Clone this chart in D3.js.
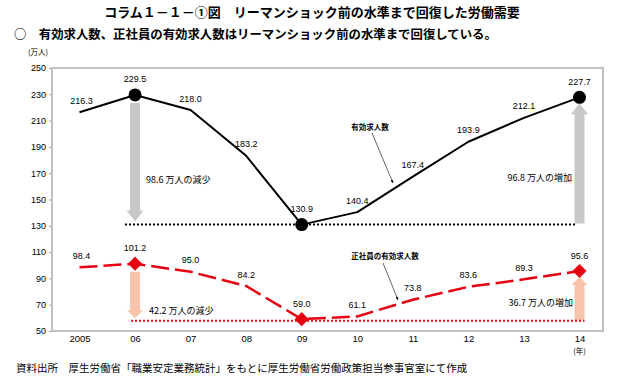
<!DOCTYPE html>
<html>
<head>
<meta charset="utf-8">
<script src="https://cdn.jsdelivr.net/npm/d3@7"></script>
<style>
  body { margin: 0; background: #fff; }
  text { font-family: "Liberation Sans", "Noto Sans CJK JP", sans-serif; }
  .jp { font-family: "Noto Sans CJK JP", sans-serif; }
</style>
</head>
<body>
<script>
// data
var years = ["2005", "06", "07", "08", "09", "10", "11", "12", "13", "14"];
var jobOffers = [216.3, 229.5, 218.0, 183.2, 130.9, 140.4, 167.4, 193.9, 212.1, 227.7];
var regularOffers = [98.4, 101.2, 95.0, 84.2, 59.0, 61.1, 73.8, 83.6, 89.3, 95.6];
var yTicks = [50, 70, 90, 110, 130, 150, 170, 190, 210, 230, 250];
var markedYears = ["06", "09", "14"];

var W = 621, H = 379;
var svg = d3.select("body").append("svg")
    .attr("width", W)
    .attr("height", H);

// frame of the plot
var frame = {left: 52, top: 68, right: 603, bottom: 331};

var x = d3.scalePoint()
    .domain(years)
    .range([79.5, 579.5]);

var y = d3.scaleLinear()
    .domain([50, 250])
    .range([frame.bottom, frame.top]);

// titles
svg.append("text").attr("class", "jp")
    .attr("x", 312).attr("y", 17)
    .attr("text-anchor", "middle")
    .attr("font-size", 13).attr("font-weight", "bold")
    .text("コラム１－１－①図　リーマンショック前の水準まで回復した労働需要");

svg.append("text").attr("class", "jp")
    .attr("x", 14).attr("y", 39)
    .attr("font-size", 12.4).attr("font-weight", "bold")
    .text("○　有効求人数、正社員の有効求人数はリーマンショック前の水準まで回復している。");

svg.append("text").attr("class", "jp")
    .attr("x", 28).attr("y", 55)
    .attr("font-size", 7.5)
    .text("(万人)");

// y axis
svg.append("g")
    .attr("transform", "translate(" + frame.left + ",0)")
    .call(d3.axisLeft(y).tickValues(yTicks).tickSize(3).tickPadding(3))
    .call(function(g) {
      g.select(".domain").remove();
      g.selectAll(".tick line").attr("stroke", "#999");
      g.selectAll(".tick text").attr("font-size", 9).attr("fill", "#000")
        .style("font-family", "Liberation Sans, sans-serif");
    });

// x axis
svg.append("g")
    .attr("transform", "translate(0," + frame.bottom + ")")
    .call(d3.axisBottom(x).tickSize(0).tickPadding(4))
    .call(function(g) {
      g.select(".domain").remove();
      g.selectAll(".tick text").attr("font-size", 9.5).attr("fill", "#000")
        .style("font-family", "Liberation Sans, sans-serif");
    });

svg.append("text").attr("class", "jp")
    .attr("x", x("14")).attr("y", 354)
    .attr("text-anchor", "middle")
    .attr("font-size", 7.5)
    .text("(年)");

// plot frame
svg.append("rect")
    .attr("x", frame.left).attr("y", frame.top)
    .attr("width", frame.right - frame.left)
    .attr("height", frame.bottom - frame.top)
    .attr("fill", "none")
    .attr("stroke", "#c0c0c0")
    .attr("stroke-width", 2);

// block arrows (drawn from the data values)
function blockArrow(cx, yFrom, yTo, color, shaftW, headW, headL) {
  var dir = yTo > yFrom ? 1 : -1;
  var base = yTo - dir * headL;
  var p = d3.path();
  p.moveTo(cx - shaftW / 2, yFrom);
  p.lineTo(cx - shaftW / 2, base);
  p.lineTo(cx - headW / 2, base);
  p.lineTo(cx, yTo);
  p.lineTo(cx + headW / 2, base);
  p.lineTo(cx + shaftW / 2, base);
  p.lineTo(cx + shaftW / 2, yFrom);
  p.closePath();
  svg.append("path").attr("d", p.toString()).attr("fill", color);
}

var i06 = years.indexOf("06"), i09 = years.indexOf("09"), i14 = years.indexOf("14");

blockArrow(x("06"), y(jobOffers[i06]) + 8, y(jobOffers[i09]) - 3, "#c8c8c8", 10, 17, 11);
blockArrow(x("14"), y(jobOffers[i09]) - 1, y(jobOffers[i14]) + 6, "#c8c8c8", 10, 17, 11);
blockArrow(x("06"), y(regularOffers[i06]) + 8, y(regularOffers[i09]) - 1, "#f8c4ab", 10, 16, 8);
blockArrow(x("14"), y(regularOffers[i09]) + 1, y(regularOffers[i14]) + 6, "#f8c4ab", 10, 16, 8);

// dotted reference lines at the 2009 low
svg.append("line")
    .attr("x1", x("06") - 10).attr("x2", x("14") - 3)
    .attr("y1", y(jobOffers[i09])).attr("y2", y(jobOffers[i09]))
    .attr("stroke", "#000").attr("stroke-width", 2)
    .attr("stroke-dasharray", "2,2");

svg.append("line")
    .attr("x1", x("06") - 4).attr("x2", x("14") + 5)
    .attr("y1", y(regularOffers[i09]) + 1.5).attr("y2", y(regularOffers[i09]) + 1.5)
    .attr("stroke", "#e60012").attr("stroke-width", 2)
    .attr("stroke-dasharray", "2,2");

// lines
var line = d3.line()
    .x(function(d, i) { return x(years[i]); })
    .y(function(d) { return y(d); });

svg.append("path")
    .datum(jobOffers)
    .attr("fill", "none")
    .attr("stroke", "#000")
    .attr("stroke-width", 2)
    .attr("stroke-linejoin", "round")
    .attr("d", line);

svg.append("path")
    .datum(regularOffers)
    .attr("fill", "none")
    .attr("stroke", "#e60012")
    .attr("stroke-width", 2.5)
    .attr("stroke-dasharray", "18,6")
    .attr("d", line);

// markers
svg.selectAll(".dot")
    .data(markedYears)
  .enter().append("circle")
    .attr("class", "dot")
    .attr("cx", function(d) { return x(d); })
    .attr("cy", function(d) { return y(jobOffers[years.indexOf(d)]); })
    .attr("r", 6.5)
    .attr("fill", "#000");

svg.selectAll(".diamond")
    .data(markedYears)
  .enter().append("path")
    .attr("class", "diamond")
    .attr("d", d3.symbol(d3.symbolSquare, 100))
    .attr("transform", function(d) {
      return "translate(" + x(d) + "," + y(regularOffers[years.indexOf(d)]) + ") rotate(45)";
    })
    .attr("fill", "#e60012");

// value labels
function labels(values, cls) {
  svg.selectAll("." + cls)
      .data(values)
    .enter().append("text")
      .attr("class", cls)
      .attr("x", function(d, i) { return x(years[i]) + (i === 0 ? 2 : 0); })
      .attr("y", function(d, i) {
        var big = markedYears.indexOf(years[i]) >= 0;
        return y(d) - (big ? 12.5 : 8.5);
      })
      .attr("text-anchor", "middle")
      .attr("font-size", 9)
      .text(function(d) { return d.toFixed(1); });
}
labels(jobOffers, "lblA");
labels(regularOffers, "lblB");

// annotations
function note(tx, ty, str, size, anchor, weight) {
  svg.append("text").attr("class", "jp")
      .attr("x", tx).attr("y", ty)
      .attr("font-size", size)
      .attr("text-anchor", anchor || "start")
      .attr("font-weight", weight || "normal")
      .text(str);
}
note(146, 183, "98.6 万人の減少", 9);
note(572, 181, "96.8 万人の増加", 9, "end");
note(149, 314, "42.2 万人の減少", 9);
note(573, 306, "36.7 万人の増加", 9, "end");
note(370, 130, "有効求人数", 7.5, "middle", "bold");
note(385, 259, "正社員の有効求人数", 7.5, "middle", "bold");

// thin pointers to the lines
svg.append("defs").append("marker")
    .attr("id", "tip")
    .attr("viewBox", "0 0 10 10")
    .attr("refX", 9).attr("refY", 5)
    .attr("markerWidth", 6).attr("markerHeight", 6)
    .attr("orient", "auto")
  .append("path")
    .attr("d", "M0,1 L10,5 L0,9 z")
    .attr("fill", "#000");

svg.append("line")
    .attr("x1", 372).attr("y1", 133)
    .attr("x2", 393).attr("y2", 183)
    .attr("stroke", "#000").attr("stroke-width", 0.6)
    .attr("marker-end", "url(#tip)");

svg.append("line")
    .attr("x1", 383).attr("y1", 263)
    .attr("x2", 398).attr("y2", 300)
    .attr("stroke", "#000").attr("stroke-width", 0.6)
    .attr("marker-end", "url(#tip)");

// source
svg.append("text").attr("class", "jp")
    .attr("x", 16).attr("y", 372)
    .attr("font-size", 10.5)
    .text("資料出所　厚生労働省「職業安定業務統計」をもとに厚生労働省労働政策担当参事官室にて作成");
</script>
</body>
</html>
